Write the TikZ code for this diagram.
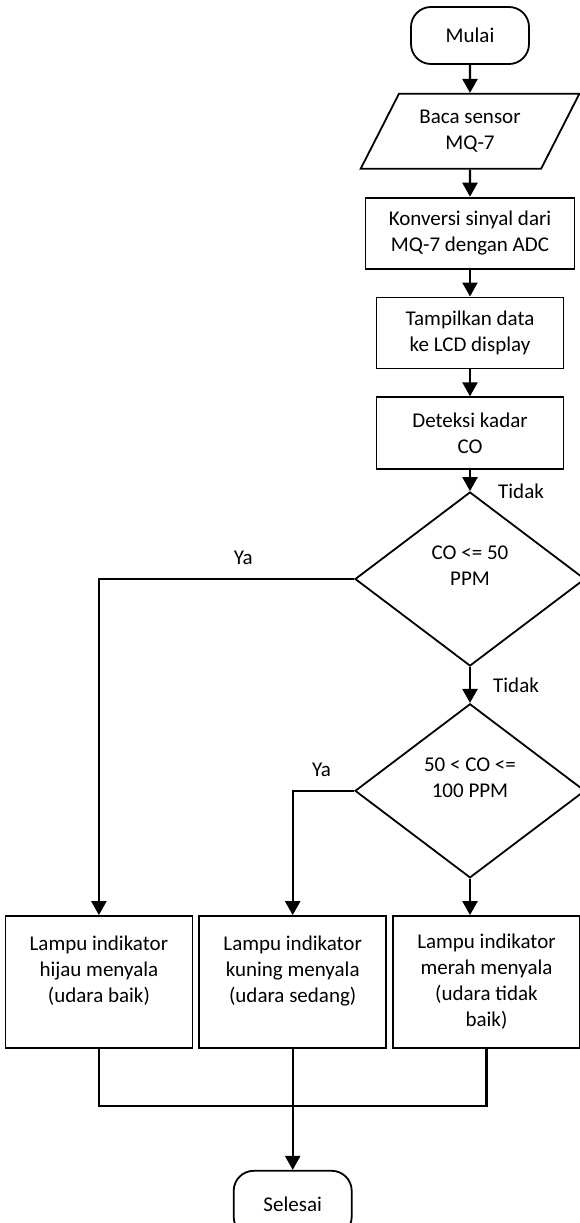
\documentclass[tikz,border=0pt]{standalone}
\usepackage{fontspec}
\setmainfont{Carlito}
\usetikzlibrary{shapes,shapes.geometric,arrows,arrows.meta,calc,positioning}
\tikzset{kotak/.style={draw, rectangle, line width=1.8pt, align=center, inner sep=2pt, font=\fontsize{21}{26}\selectfont}}
\tikzstyle{term}=[kotak, rounded corners=20pt, minimum width=118pt, minimum height=57pt]
\tikzstyle{cek}=[kotak, diamond, inner sep=0pt, minimum width=230pt, minimum height=174pt]
\tikzstyle{lampu}=[kotak, minimum width=187pt, minimum height=132pt]
\tikzstyle{teks}=[inner sep=0pt, font=\fontsize{21}{26}\selectfont]

\begin{document}
\begin{tikzpicture}[>={Triangle[width=15pt,length=14pt]}, line width=2.4pt, x=1pt, y=1pt, node distance=27pt]
\useasboundingbox (0,0) rectangle (580,-1223);
\node[term] (mulai) at (470,-35.5) {Mulai};
\node[kotak, trapezium, trapezium left angle=58.5, trapezium right angle=121.5, trapezium stretches=true, minimum width=219pt, minimum height=75pt][below=28pt of mulai] (baca) {Baca sensor\\MQ-7};
\node[kotak, minimum width=209pt, minimum height=71pt][below=27pt of baca] (konversi) {Konversi sinyal dari\\MQ-7 dengan ADC};
\node[kotak, minimum width=187pt, minimum height=71pt][below=27pt of konversi] (tampil) {Tampilkan data\\ke LCD display};
\node[kotak, minimum width=187pt, minimum height=72pt][below=27pt of tampil] (deteksi) {Deteksi kadar\\CO};
\node[cek][below=21pt of deteksi] (cek1) {CO <= 50\\PPM\\\mbox{}};
\node[cek][below=36pt of cek1] (cek2) {50 < CO <=\\100 PPM\\\mbox{}};
\node[lampu] (merah) at (486.5,-982) {Lampu indikator\\merah menyala\\(udara tidak\\baik)};
\node[lampu][left=5pt of merah] (kuning) {Lampu indikator\\kuning menyala\\(udara sedang)\\\mbox{}};
\node[lampu][left=5pt of kuning] (hijau) {Lampu indikator\\hijau menyala\\(udara baik)\\\mbox{}};
\node[term, minimum height=66pt][below=121pt of kuning] (selesai) {Selesai};
\path[->](mulai) edge (baca)
	(baca) edge (konversi)
	(konversi) edge (tampil)
	(tampil) edge (deteksi)
	(deteksi) edge node[teks, pos=1, right=27pt] {Tidak} (cek1)
	(cek1) edge node[teks, right=22pt] {Tidak} (cek2)
	(cek2) edge (cek2 |- merah.north);
\draw[->] (cek1.west) -- node[teks, pos=0.434, above=13pt] {Ya} (cek1.west -| hijau.north) -- (hijau.north);
\draw[->] (cek2.west) -- node[teks, pos=0.53, above=13pt] {Ya} (cek2.west -| kuning.north) -- (kuning.north);
\draw (hijau.south) -- ++(0,-57) -| (merah.south);
\draw[->] (kuning) -- (selesai);
\end{tikzpicture}
\end{document}
